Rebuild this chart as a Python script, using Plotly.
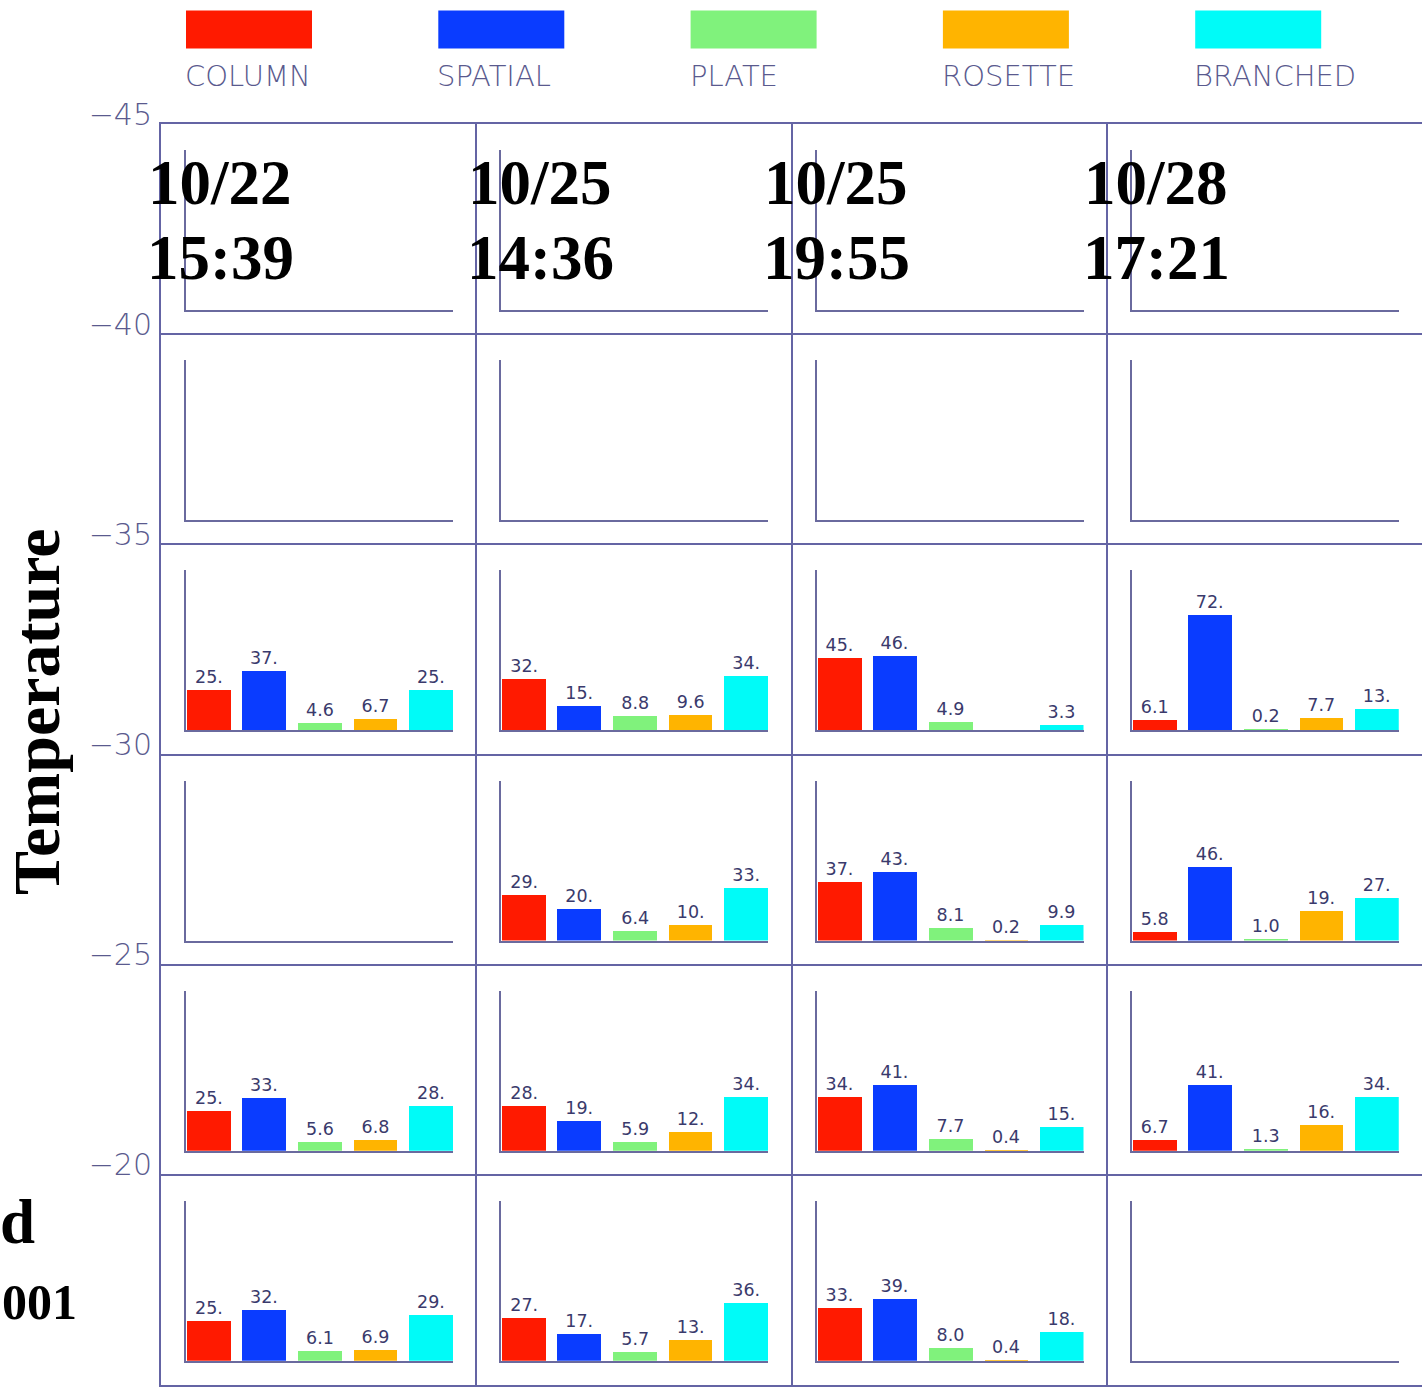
import plotly.graph_objects as go

W, H = 1422, 1390

# Crystal habit categories and their colours
categories = ["COLUMN", "SPATIAL", "PLATE", "ROSETTE", "BRANCHED"]
colors = ["#ff1a00", "#0a3cff", "#80f27c", "#ffb400", "#00fbf8"]

# Observation times (one column of panels each)
dates = ["10/22", "10/25", "10/25", "10/28"]
times = ["15:39", "14:36", "19:55", "17:21"]

# Temperature band edges (one row of panels per band)
temp_ticks = [-45, -40, -35, -30, -25, -20, -15]

# Percent of particles per habit; None = no panel data
band_45_40 = [None, None, None, None]
band_40_35 = [None, None, None, None]
band_35_30 = [[25, 37, 4.6, 6.7, 25], [32, 15, 8.8, 9.6, 34],
              [45, 46, 4.9, None, 3.3], [6.1, 72, 0.2, 7.7, 13]]
band_30_25 = [None, [29, 20, 6.4, 10, 33],
              [37, 43, 8.1, 0.2, 9.9], [5.8, 46, 1.0, 19, 27]]
band_25_20 = [[25, 33, 5.6, 6.8, 28], [28, 19, 5.9, 12, 34],
              [34, 41, 7.7, 0.4, 15], [6.7, 41, 1.3, 16, 34]]
band_20_15 = [[25, 32, 6.1, 6.9, 29], [27, 17, 5.7, 13, 36],
              [33, 39, 8.0, 0.4, 18], None]
bands = [band_45_40, band_40_35, band_35_30, band_30_25, band_25_20, band_20_15]

GRID = "#6464a4"
AXIS = "#6a6a9e"
TXT = "#3a3a6c"
LIGHT = "#5a5a8e"
SERIF = "Liberation Serif, Times New Roman, serif"
SANS = "DejaVu Sans, sans-serif"


def px_x(x):
    return x / W


def px_y(y):
    return 1 - y / H


def fmt(v):
    if v is None:
        return ""
    return f"{v:.0f}." if v >= 10 else f"{v:.1f}"


fig = go.Figure()

# Outer frame: columns = observation times, rows = temperature bands
left, right, top, bottom = 161, 1422, 124, 1385
ncol, nrow = 4, len(bands)
cw = (right - left) / ncol
rh = (bottom - top) / nrow

layout = dict(
    xaxis=dict(domain=[px_x(left), 1.0], range=[0, ncol], tickvals=list(range(1, ncol)),
               showgrid=True, gridcolor=GRID, gridwidth=2, showline=True, mirror=True,
               linecolor=GRID, linewidth=2, showticklabels=False, ticks="",
               zeroline=False, fixedrange=True, automargin=False),
    yaxis=dict(domain=[px_y(bottom), px_y(top)], range=[temp_ticks[-1], temp_ticks[0]],
               tickvals=temp_ticks, ticktext=[f"\u2212{abs(t)}" for t in temp_ticks],
               showgrid=True, gridcolor=GRID, gridwidth=2, showline=True, mirror=True,
               linecolor=GRID, linewidth=2, ticks="", ticklen=0, zeroline=False,
               fixedrange=True, automargin=False,
               tickfont=dict(family=SANS, size=30, color=LIGHT, weight=200),
               ticklabelshift=10, ticklabelstandoff=1),
)
# invisible anchor trace for the outer frame
fig.add_trace(go.Scatter(x=[], y=[], xaxis="x", yaxis="y", showlegend=False))

k = 2
for r, band in enumerate(bands):
    for c, vals in enumerate(band):
        x0 = left + cw * c + 25
        x1 = left + cw * c + 292
        y_top = top + rh * r + 26
        y_bot = top + rh * r + 186
        layout[f"xaxis{k}"] = dict(domain=[px_x(x0), px_x(x1)], range=[-0.41, 4.395],
                                   anchor=f"y{k}", showline=True, linecolor=AXIS,
                                   linewidth=1.5, showgrid=False, zeroline=False,
                                   showticklabels=False, ticks="", fixedrange=True,
                                   automargin=False)
        layout[f"yaxis{k}"] = dict(domain=[px_y(y_bot), px_y(y_top)], range=[0, 100],
                                   anchor=f"x{k}", showline=True, linecolor=AXIS,
                                   linewidth=1.5, showgrid=False, zeroline=False,
                                   showticklabels=False, ticks="", fixedrange=True,
                                   automargin=False)
        yv = vals if vals is not None else [None] * len(categories)
        fig.add_trace(go.Bar(
            x=list(range(len(categories))), y=yv, width=0.79,
            marker=dict(color=colors, line=dict(width=0)),
            text=[fmt(v) for v in yv], textposition="outside", cliponaxis=False,
            constraintext="none",
            textfont=dict(family=SANS, size=17.5, color=TXT),
            xaxis=f"x{k}", yaxis=f"y{k}", showlegend=False, hoverinfo="skip"))
        k += 1

annotations = []
shapes = []

# Legend: colour swatches with labels beneath
for i, (name, col) in enumerate(zip(categories, colors)):
    lx = 186 + 252.3 * i
    shapes.append(dict(type="rect", xref="paper", yref="paper",
                       x0=px_x(lx), x1=px_x(lx + 126), y0=px_y(48.5), y1=px_y(10.5),
                       fillcolor=col, line=dict(width=0)))
    annotations.append(dict(text=name, xref="paper", yref="paper", x=px_x(lx - 3),
                            y=px_y(76), xanchor="left", yanchor="middle", showarrow=False,
                            font=dict(family=SANS, size=29, color=LIGHT, weight=200)))

# Date / time headers
date_cx = [220, 540, 836, 1156]
for cx, d, t in zip(date_cx, dates, times):
    annotations.append(dict(text=f"<b>{d}</b>", xref="paper", yref="paper", x=px_x(cx),
                            y=px_y(183), xanchor="center", yanchor="middle", showarrow=False,
                            font=dict(family=SERIF, size=63, color="black")))
    annotations.append(dict(text=f"<b>{t}</b>", xref="paper", yref="paper", x=px_x(cx),
                            y=px_y(258), xanchor="center", yanchor="middle", showarrow=False,
                            font=dict(family=SERIF, size=63, color="black")))

annotations.append(dict(text="<b>Temperature</b>", xref="paper", yref="paper",
                        x=px_x(37), y=px_y(712), xanchor="center", yanchor="middle",
                        textangle=-90, showarrow=False,
                        font=dict(family=SERIF, size=66, color="black")))
annotations.append(dict(text="<b>d</b>", xref="paper", yref="paper", x=px_x(-2),
                        y=px_y(1222), xanchor="left", yanchor="middle", showarrow=False,
                        font=dict(family=SERIF, size=63, color="black")))
annotations.append(dict(text="<b>001</b>", xref="paper", yref="paper", x=px_x(0),
                        y=px_y(1302), xanchor="left", yanchor="middle", showarrow=False,
                        font=dict(family=SERIF, size=50, color="black")))

fig.update_layout(
    **layout,
    width=W, height=H,
    margin=dict(l=0, r=0, t=0, b=0, pad=0, autoexpand=False),
    paper_bgcolor="white", plot_bgcolor="white",
    showlegend=False, bargap=0,
    annotations=annotations, shapes=shapes,
)

fig.write_html("out.html", config={"displayModeBar": False})
